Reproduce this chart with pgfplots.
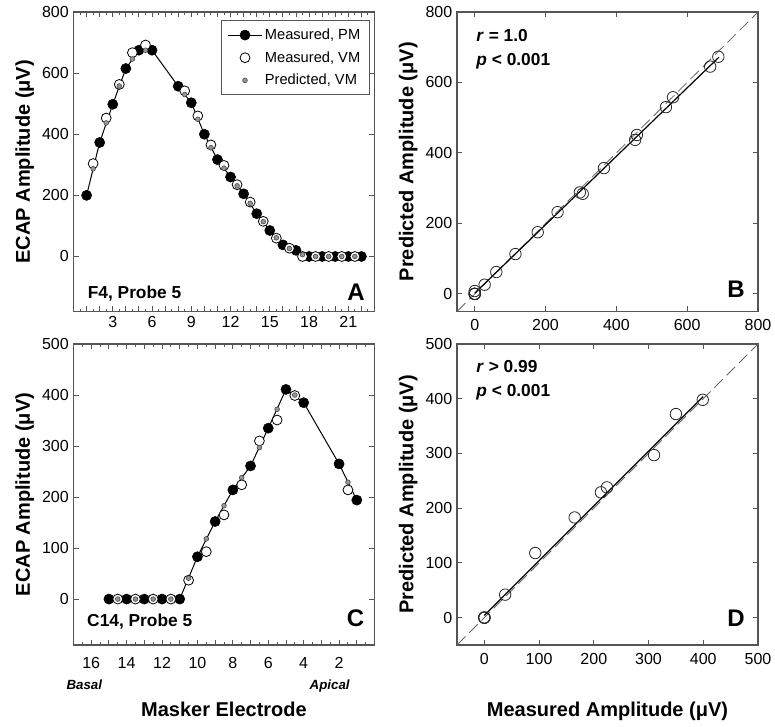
\documentclass[border=0pt]{standalone}
\usepackage{fontspec}
\setmainfont{Liberation Sans}
\usepackage{pgfplots}
\pgfplotsset{compat=1.18}
\definecolor{axgray}{RGB}{85,85,85}
\definecolor{predgray}{RGB}{150,150,150}
\pgfplotsset{
  panel/.style={
    scale only axis, width=225.75pt,
    axis line style={axgray,line width=1.1pt},
    tick style={axgray,line width=0.7pt},
    tick align=inside,
    major tick length=4pt, minor tick length=2pt,
    tick label style={font=\fontsize{12pt}{14pt}\selectfont},
    /pgf/number format/assume math mode=true,
    /pgf/number format/1000 sep={},
    label style={font=\bfseries\fontsize{15pt}{18pt}\selectfont},
    ylabel style={at={(axis description cs:-0.162,0.5)},anchor=center},
    clip mode=individual,
  },
  limg/.style={legend image code/.code={\draw[mark repeat=2,mark phase=2,##1] plot coordinates {(0cm,0cm)(0.44cm,0cm)(0.88cm,0cm)};}},
  pm/.style={black,line width=0.75pt,mark=*,mark size=3.8pt,mark options={solid,fill=black,draw=black,line width=0.4pt},limg},
  vm/.style={only marks,mark=*,mark size=3.7pt,mark options={fill=white,draw=black,line width=0.6pt},limg},
  pr/.style={only marks,mark=*,mark size=1.8pt,mark options={fill=predgray,draw=black!75,line width=0.4pt},limg},
  sc/.style={only marks,mark=o,mark size=4.3pt,mark options={draw=black!85,line width=0.6pt}},
}
\tikzset{
  ann/.style={font=\bfseries\fontsize{13pt}{15pt}\selectfont},
  plet/.style={font=\bfseries\fontsize{18pt}{20pt}\selectfont},
}
\begin{document}
\begin{tikzpicture}
\useasboundingbox (0,0) rectangle (581.25pt,545.25pt);
% ---------------- Panel A ----------------
\begin{axis}[panel, at={(55.125pt,311.625pt)}, anchor=south west, height=224.625pt,
  xmin=0, xmax=23, ymin=-180, ymax=800,
  xtick={0,...,23}, xticklabels={,,,3,,,6,,,9,,,12,,,15,,,18,,,21,,},
  minor x tick num=1,
  ytick={0,200,...,800},
  ylabel={ECAP Amplitude (μV)},
  legend style={at={(axis description cs:0.985,0.972)},anchor=north east,
    draw=axgray,line width=0.6pt,font=\fontsize{11pt}{13pt}\selectfont,
    row sep=3.5pt,inner xsep=5pt,inner ysep=4pt},
  legend cell align=left]
\addplot[pm] coordinates {(1,200)(2,373)(3,498)(4,615)(5,675)(6,675)(8,557)(9,503)(10,400)(11,317)(12,260)(13,205)(14,140)(15,85)(16,38)(17,20)(18,0)(19,0)(20,0)(21,0)(22,0)};
\addlegendentry{Measured, PM}
\addplot[vm] coordinates {(1.5,304)(2.5,453)(3.5,563)(4.5,667)(5.5,692)(8.5,542)(9.5,460)(10.5,365)(11.5,298)(12.5,235)(13.5,178)(14.5,115)(15.5,60)(16.5,27)(17.5,0)(18.5,0)(19.5,0)(20.5,0)(21.5,0)};
\addlegendentry{Measured, VM}
\addplot[pr] coordinates {(1.5,287)(2.5,437)(3.5,558)(4.5,646)(5.5,675)(8.5,530)(9.5,449)(10.5,356)(11.5,289)(12.5,231)(13.5,174)(14.5,114)(15.5,61)(16.5,26)(17.5,6)(18.5,0)(19.5,0)(20.5,0)(21.5,0)};
\addlegendentry{Predicted, VM}
\node[ann,anchor=base west] at (axis description cs:0.032,0.043) {F4, Probe 5};
\node[plet,anchor=base] at (axis description cs:0.939,0.037) {A};
\end{axis}
% ---------------- Panel B ----------------
\begin{axis}[panel, at={(342.75pt,311.625pt)}, anchor=south west, height=224.625pt,
  xmin=-50, xmax=800, ymin=-50, ymax=800,
  xtick={0,200,...,800}, ytick={0,200,...,800},
  xticklabel style={yshift=-2pt},
  ylabel={Predicted Amplitude (μV)}]
\addplot[black!60,line width=0.6pt,dash pattern=on 9pt off 4pt] coordinates {(-50,-50)(800,800)};
\addplot[black,line width=0.9pt] coordinates {(0,2)(690,672)};
\addplot[sc] coordinates {(0,0)(0,0)(0,0)(0,0)(0,8)(28,26)(61,62)(115,113)(178,175)(234,232)(297,288)(305,284)(365,357)(453,437)(458,451)(540,530)(560,558)(665,645)(688,673)};
\node[ann,anchor=base west] at (axis description cs:0.049,0.903) {\textit{r} = 1.0};
\node[ann,anchor=base west] at (axis description cs:0.049,0.823) {\textit{p} < 0.001};
\node[plet,anchor=base] at (axis description cs:0.927,0.047) {B};
\end{axis}
% ---------------- Panel C ----------------
\begin{axis}[panel, at={(55.125pt,61.5pt)}, anchor=south west, height=225.75pt,
  x dir=reverse, xmin=0, xmax=17, ymin=-90, ymax=500,
  xtick={0,...,17}, xticklabels={,,2,,4,,6,,8,,10,,12,,14,,16,},
  minor x tick num=1,
  xticklabel style={yshift=-6pt},
  ytick={0,100,...,500},
  ylabel={ECAP Amplitude (μV)},
  xlabel={Masker Electrode},
  xlabel style={at={(axis description cs:0.5,-0.239)},anchor=base}]
\addplot[pm] coordinates {(15,0)(14,0)(13,0)(12,0)(11,0)(10,83)(9,152)(8,214)(7,261)(6,335)(5,411)(4,385)(2,265)(1,194)};
\addplot[vm] coordinates {(14.5,0)(13.5,0)(12.5,0)(11.5,0)(10.5,37)(9.5,93)(8.5,165)(7.5,224)(6.5,310)(5.5,351)(4.5,399)(1.5,214)};
\addplot[pr] coordinates {(14.5,0)(13.5,0)(12.5,0)(11.5,0)(10.5,41)(9.5,118)(8.5,183)(7.5,238)(6.5,297)(5.5,372)(4.5,400)(1.5,229)};
\node[ann,anchor=base west] at (axis description cs:0.03,0.06) {C14, Probe 5};
\node[plet,anchor=base] at (axis description cs:0.937,0.06) {C};
\node[font=\bfseries\itshape\fontsize{10pt}{12pt}\selectfont,anchor=base] at (axis description cs:0.036,-0.1495) {Basal};
\node[font=\bfseries\itshape\fontsize{10pt}{12pt}\selectfont,anchor=base] at (axis description cs:0.851,-0.1495) {Apical};
\end{axis}
% ---------------- Panel D ----------------
\begin{axis}[panel, at={(342.75pt,61.5pt)}, anchor=south west, height=225.75pt,
  xmin=-50, xmax=500, ymin=-50, ymax=500,
  xtick={0,100,...,500}, ytick={0,100,...,500},
  xticklabel style={yshift=-2.5pt},
  ylabel={Predicted Amplitude (μV)},
  xlabel={Measured Amplitude (μV)},
  xlabel style={at={(axis description cs:0.5,-0.239)},anchor=base}]
\addplot[black!60,line width=0.6pt,dash pattern=on 9pt off 4pt] coordinates {(-50,-50)(500,500)};
\addplot[black,line width=0.9pt] coordinates {(0,4)(400,404)};
\addplot[sc] coordinates {(0,0)(0,0)(0,0)(0,0)(38,42)(93,118)(165,183)(213,229)(224,238)(310,297)(350,372)(399,398)};
\node[ann,anchor=base west] at (axis description cs:0.049,0.904) {\textit{r} > 0.99};
\node[ann,anchor=base west] at (axis description cs:0.049,0.824) {\textit{p} < 0.001};
\node[plet,anchor=base] at (axis description cs:0.927,0.06) {D};
\end{axis}
\end{tikzpicture}
\end{document}
